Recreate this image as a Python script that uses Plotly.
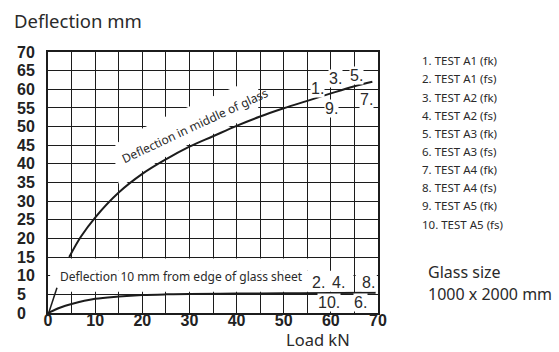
import plotly.graph_objects as go

# ---- data ----
mid_load = [4.5, 7, 10, 15, 20, 25, 30, 35, 40, 45, 50, 55, 60, 65, 68.8]
mid_defl = [15, 20.5, 25.6, 32.3, 37.3, 41.2, 44.6, 47.4, 50.2, 52.7, 54.9, 56.9, 58.9, 60.8, 62.0]

edge_load = [0, 2.5, 5, 10, 15, 20, 25, 30, 40, 50, 60, 69.5]
edge_defl = [0, 1.4, 2.4, 3.8, 4.4, 4.8, 5.0, 5.1, 5.2, 5.3, 5.35, 5.45]

leader_x = [0.2, 1.9]
leader_y = [0.2, 6.8]

x_ticks = list(range(0, 75, 5))
x_ticktext = ["0", "", "10", "", "20", "", "30", "", "40", "", "50", "", "60", "", "70"]
y_ticks = list(range(0, 75, 5))
y_ticktext = ["0\u2007", "5\u2007"] + [str(v) for v in range(10, 75, 5)]

test_labels = ["1.", "3.", "5.", "7.", "9.", "2.", "4.", "8.", "10.", "6."]
test_label_x = [57.2, 61.0, 65.4, 67.6, 60.1, 57.3, 61.7, 67.9, 59.7, 66.2]
test_label_y = [60.3, 62.9, 63.6, 57.2, 54.9, 8.1, 8.1, 8.1, 2.8, 2.8]

legend_items = ["1. TEST A1 (fk)", "2. TEST A1 (fs)", "3. TEST A2 (fk)", "4. TEST A2 (fs)",
                "5. TEST A3 (fk)", "6. TEST A3 (fs)", "7. TEST A4 (fk)", "8. TEST A4 (fs)",
                "9. TEST A5 (fk)", "10. TEST A5 (fs)"]

# white erased areas of the grid (data coords)
mask_mid_x = [15.3, 20, 25, 30, 35, 40, 44.6, 44.6, 40, 35, 30, 25, 20, 14.3, 14.3]
mask_mid_y = [33.6, 38.0, 41.9, 45.3, 48.0, 50.9, 52.9, 60.4, 60.8, 58.1, 55.4, 52.7, 49.5, 45.4, 37.5]
mask_rects = [
    (0.45, 5.7, 64.8, 11.3),
    (65.25, 5.7, 69.75, 11.3),
    (0.45, 11.3, 58.7, 14.6),
]

INK = "#1c1c1c"
W, H = 559, 352
ML, MR, MT, MB = 48, 181, 52, 39
PW, PH = W - ML - MR, H - MT - MB


def px2paper(px, py):
    return (px - ML) / PW, (H - MB - py) / PH


fig = go.Figure()

fig.add_trace(go.Scatter(x=mid_load, y=mid_defl, mode="lines",
                         line=dict(color=INK, width=2, shape="spline"),
                         hoverinfo="skip", showlegend=False))
fig.add_trace(go.Scatter(x=edge_load, y=edge_defl, mode="lines",
                         line=dict(color=INK, width=2, shape="spline"),
                         hoverinfo="skip", showlegend=False))
fig.add_trace(go.Scatter(x=leader_x, y=leader_y, mode="lines",
                         line=dict(color=INK, width=1.5),
                         hoverinfo="skip", showlegend=False))

shapes = []
path = "M " + " L ".join(f"{x},{y}" for x, y in zip(mask_mid_x, mask_mid_y)) + " Z"
shapes.append(dict(type="path", path=path, xref="x", yref="y",
                   fillcolor="white", line=dict(width=0), layer="between"))
for x0, y0, x1, y1 in mask_rects:
    shapes.append(dict(type="rect", x0=x0, y0=y0, x1=x1, y1=y1, xref="x", yref="y",
                       fillcolor="white", line=dict(width=0), layer="between"))

annotations = []
# curve labels
annotations.append(dict(text="Deflection in middle of glass", x=31.2, y=50.3, xref="x", yref="y",
                        showarrow=False, textangle=-25,
                        font=dict(family="Noto Sans", size=12, color="#2a2a2a")))
annotations.append(dict(text="Deflection 10 mm from edge of glass sheet", x=2.1, y=9.7,
                        xref="x", yref="y", xanchor="left", showarrow=False,
                        font=dict(family="Noto Sans", size=12, color="#2a2a2a")))
for t, x, y in zip(test_labels, test_label_x, test_label_y):
    annotations.append(dict(text=t, x=x, y=y, xref="x", yref="y", showarrow=False,
                            bgcolor="white", borderpad=0,
                            font=dict(family="Liberation Sans", size=16, color="#2a2a2a")))

# titles
px, py = px2paper(12, 20)
annotations.append(dict(text="Deflection mm", x=px, y=py, xref="paper", yref="paper",
                        xanchor="left", yanchor="middle", showarrow=False,
                        font=dict(family="Noto Sans", size=18.5, color="#2a2a2a")))
px, py = px2paper(318, 351.5)
annotations.append(dict(text="Load kN", x=px, y=py, xref="paper", yref="paper",
                        xanchor="center", yanchor="bottom", showarrow=False, borderpad=0,
                        font=dict(family="Noto Sans", size=16.5, color="#2a2a2a")))

# legend list
for i, t in enumerate(legend_items):
    px, py = px2paper(420, 60.7 + i * 18.15)
    annotations.append(dict(text=t, x=px, y=py, xref="paper", yref="paper",
                            xanchor="left", yanchor="middle", showarrow=False,
                            font=dict(family="Noto Sans", size=11.5, color="#2a2a2a")))

px, py = px2paper(426, 272)
annotations.append(dict(text="Glass size", x=px, y=py, xref="paper", yref="paper",
                        xanchor="left", yanchor="middle", showarrow=False,
                        font=dict(family="Noto Sans", size=16, color="#2a2a2a")))
px, py = px2paper(426, 294)
annotations.append(dict(text="1000 x 2000 mm", x=px, y=py, xref="paper", yref="paper",
                        xanchor="left", yanchor="middle", showarrow=False,
                        font=dict(family="Noto Sans", size=16, color="#2a2a2a")))

fig.update_layout(
    width=W, height=H, autosize=False,
    margin=dict(l=ML, r=MR, t=MT, b=MB, pad=0),
    paper_bgcolor="white", plot_bgcolor="white",
    shapes=shapes, annotations=annotations, showlegend=False,
    xaxis=dict(range=[0, 70], tickvals=x_ticks, ticktext=x_ticktext,
               showgrid=True, gridcolor=INK, gridwidth=1.3, zeroline=False,
               showline=True, mirror=True, linecolor=INK, linewidth=2,
               ticks="", ticklabelstandoff=-8,
               tickfont=dict(family="Liberation Sans", size=16, color="#222", weight="bold")),
    yaxis=dict(range=[0, 70], tickvals=y_ticks, ticktext=y_ticktext,
               showgrid=True, gridcolor=INK, gridwidth=1.3, zeroline=False,
               showline=True, mirror=True, linecolor=INK, linewidth=2,
               ticks="", ticklabelstandoff=8,
               tickfont=dict(family="Liberation Sans", size=16, color="#222", weight="bold")),
)

fig.write_html("out.html")
